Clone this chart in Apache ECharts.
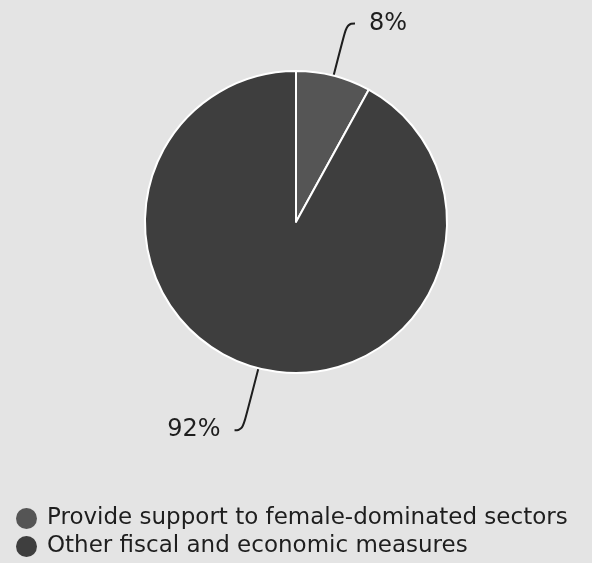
<!DOCTYPE html>
<html>
<head>
<meta charset="utf-8">
<script src="https://cdn.jsdelivr.net/npm/echarts@6/dist/echarts.min.js"></script>
<style>
html,body{margin:0;padding:0;background:#e4e4e4;}
#chart{width:592px;height:563px;}
</style>
</head>
<body>
<div id="chart"></div>
<script>
const categories = ['Provide support to female-dominated sectors', 'Other fiscal and economic measures'];
const values = [8, 92];
const labels = ['8%', '92%'];
const colors = ['#555555', '#3e3e3e'];
const leaderLengths = [54, 64];

const chart = echarts.init(document.getElementById('chart'));
chart.setOption({
  backgroundColor: '#e4e4e4',
  animation: false,
  legend: {
    orient: 'vertical',
    left: 16,
    top: 505,
    height: 58,
    padding: 0,
    itemWidth: 21,
    itemHeight: 21,
    itemGap: 1,
    icon: 'circle',
    itemStyle: { borderWidth: 0 },
    data: categories,
    textStyle: { fontFamily: 'DejaVu Sans', fontSize: 23, lineHeight: 27, color: '#1e1e1e', padding: [0, 0, 0, 5] }
  },
  series: [{
    type: 'pie',
    center: [296, 222],
    radius: [0, 151],
    startAngle: 90,
    clockwise: true,
    avoidLabelOverlap: false,
    itemStyle: { borderColor: '#ffffff', borderWidth: 2 },
    label: {
      show: true,
      position: 'outside',
      fontFamily: 'DejaVu Sans',
      fontSize: 24,
      color: '#1e1e1e',
      distanceToLabelLine: 14,
      formatter: p => labels[p.dataIndex]
    },
    labelLine: {
      show: true,
      length2: 8,
      smooth: 0.5,
      lineStyle: { color: '#1e1e1e', width: 2 }
    },
    data: categories.map((c, i) => ({
      name: c,
      value: values[i],
      itemStyle: { color: colors[i] },
      labelLine: { length: leaderLengths[i] }
    }))
  }]
});
</script>
</body>
</html>
